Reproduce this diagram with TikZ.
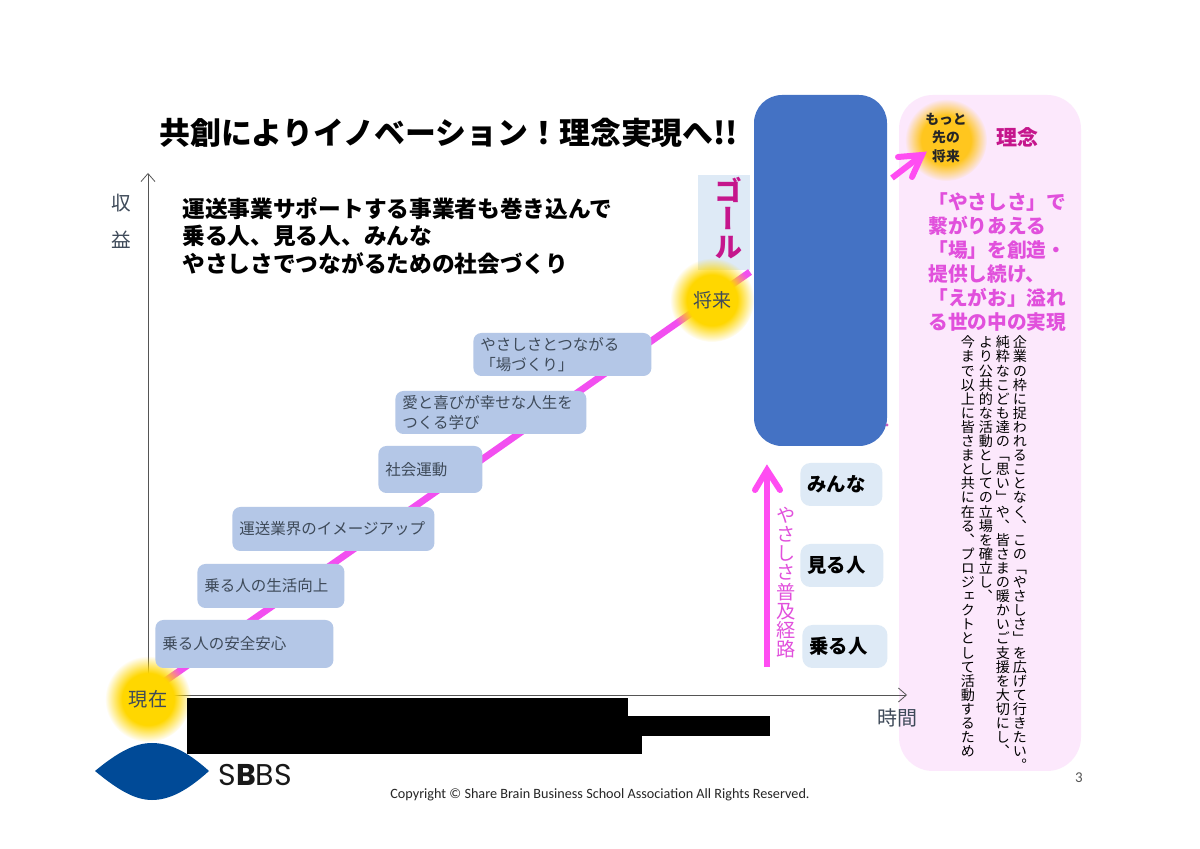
\documentclass[tikz,border=0pt]{standalone}
\usepackage{fontspec}
\usetikzlibrary{arrows.meta,fadings}
\setmainfont{Noto Sans CJK JP}
\newfontfamily\vjp[RawFeature={+vert}]{Noto Sans CJK JP}
\newfontfamily\latn{Carlito}
\newfontfamily\logo{Poppins}
\newcommand{\px}[1]{\fontsize{#1}{#1}\selectfont}
\makeatletter
\newcommand{\vstack}[1]{\vbox{\offinterlineskip\@tfor\vch:=#1\do{\hbox to 1em{\vrule width 0pt height .88em depth .12em\hss\vch\hss}}}}
\makeatother
\definecolor{stepblue}{HTML}{B4C7E7}
\definecolor{paleblue}{HTML}{DEEAF6}
\definecolor{goalblue}{HTML}{4472C4}
\definecolor{panelpink}{HTML}{FCE8FC}
\definecolor{linepink}{HTML}{F24FF0}
\definecolor{arrowpink}{HTML}{FF4DF2}
\definecolor{textpink}{HTML}{E150DC}
\definecolor{magentadeep}{HTML}{C5168C}
\definecolor{inkgray}{HTML}{3E4A59}
\definecolor{axisgray}{HTML}{555555}
\definecolor{sunyellow}{HTML}{FFD700}
\definecolor{sunorange}{HTML}{FFC61E}
\definecolor{logoblue}{HTML}{004A97}
\pgfdeclareradialshading{glowshade}{\pgfpointorigin}{%
  color(0bp)=(pgftransparent!0);
  color(15bp)=(pgftransparent!0);
  color(25bp)=(pgftransparent!100);
  color(50bp)=(pgftransparent!100)}
\pgfdeclarefading{glowfade}{\pgfuseshading{glowshade}}
\tikzset{
  stepbox/.style={fill=stepblue,rounded corners=4pt,align=left,inner xsep=3.5pt,inner ysep=0pt,
    text=inkgray,font=\px{7.75},anchor=west},
  whobox/.style={fill=paleblue,rounded corners=5pt,align=left,inner xsep=3.5pt,inner ysep=0pt,
    text=black,font=\bfseries\px{9.7},anchor=west},
  vert/.style={anchor=north,inner sep=0pt},
  axisline/.style={draw=axisgray,line width=.4pt,-{Straight Barb[length=4pt,width=7pt]}},
  pinkarrow/.style={draw=arrowpink,line width=3pt},
  pinkbarb/.style={draw=arrowpink,line width=3pt,line cap=round,line join=miter},
  plain/.style={inner sep=0pt},
}
\begin{document}
\begin{tikzpicture}[x=.5pt,y=-.5pt]
\useasboundingbox (0,0) rectangle (1200,849);
\fill[white] (0,0) rectangle (1200,849);
% panels
\fill[panelpink,rounded corners=17pt] (899,95) rectangle (1081,771);
% axes
\coordinate (origin) at (148,695);
\coordinate (ytop) at (148,173);
\coordinate (xend) at (907,695);
\draw[axisline] (origin) -- (ytop);
\draw[axisline] (origin) -- (xend);
\node[plain,text=inkgray,font=\px{9.8}] (ylab1) at (121,203) {収};
\node[plain,text=inkgray,font=\px{9.8}] (ylab2) at (121,240) {益};
\node[plain,text=inkgray,font=\px{10}] (xlab) at (897,718) {時間};
% goal
\fill[paleblue] (698,175) rectangle (750,270);
\node[vert,text=magentadeep,font=\vjp\bfseries\px{14}] (goal) at (728,176) {\vstack{ゴール}};
% stair line
\coordinate (lineend) at (750,272);
\coordinate (linestart) at (148,693);
\draw[draw=linepink,line width=3.4pt] (linestart) -- (lineend);
% glows
\fill[sunyellow,path fading=glowfade,fit fading=true] (148,699) circle (43);
\fill[sunyellow,path fading=glowfade,fit fading=true] (712,300) circle (42);
\fill[sunorange,path fading=glowfade,fit fading=true] (946,140) circle (41);
\node[plain,text=inkgray,font=\px{9.6}] (now) at (148,699) {現在};
\node[plain,text=inkgray,font=\px{9.5}] (future) at (712,300) {将来};
\node[plain,text=black!85,font=\bfseries\px{6.9},align=center] (farfuture) at (946,138) {もっと\\[2.2pt]先の\\[2.2pt]将来};
% main blue
\fill[goalblue,rounded corners=14pt] (754,95) rectangle (887,446);
\fill[textpink!70!gray] (887,425) circle (1.6);
% title
\node[plain,anchor=west,font=\bfseries\px{15.43}] (title) at (159,133) {共創によりイノベーション！理念実現へ!!};
\node[plain,anchor=north west,align=left,font=\bfseries\px{11.35},text=black] (lead) at (182,197)
  {運送事業サポートする事業者も巻き込んで\\[2.5pt]乗る人、見る人、みんな\\[2.5pt]やさしさでつながるための社会づくり};
% step boxes
\node[stepbox,minimum height=24pt,text width=82pt] (s1) at (155,644) {乗る人の安全安心};
\node[stepbox,minimum height=22pt,text width=66.5pt] (s2) at (197,586) {乗る人の生活向上};
\node[stepbox,minimum height=22pt,text width=94pt] (s3) at (232,529) {運送業界のイメージアップ};
\node[stepbox,minimum height=23.5pt,text width=45pt] (s4) at (378,469.5) {社会運動};
\node[stepbox,minimum height=21.5pt,text width=88.5pt] (s5) at (395,412.5) {愛と喜びが幸せな人生を\\[2pt]つくる学び};
\node[stepbox,minimum height=21.5pt,text width=82pt] (s6) at (473,354.5) {やさしさとつながる\\[2pt]「場づくり」};
% who boxes
\node[whobox,minimum height=21.5pt,text width=34pt] (w1) at (800,484.5) {みんな};
\node[whobox,minimum height=21.5pt,text width=34.5pt] (w2) at (800,565.5) {見る人};
\node[whobox,minimum height=21.5pt,text width=35.5pt] (w3) at (802,646.5) {乗る人};
% spreading arrow
\coordinate (uptail) at (767,667);
\coordinate (uptip) at (767,470);
\coordinate (upl) at (755,490);
\coordinate (upr) at (780,490);
\draw[pinkarrow] (uptail) -- (uptip);
\draw[pinkbarb] (upl) -- (uptip) -- (upr);
\node[vert,text=textpink,font=\vjp\px{9.6}] (route) at (786,505) {\vstack{やさしさ普及経路}};
% far arrow
\coordinate (fartail) at (892,178);
\coordinate (fartip) at (922,155);
\coordinate (farl) at (898,157);
\coordinate (farr) at (912,177);
\draw[pinkarrow] (fartail) -- (fartip);
\draw[pinkbarb] (farl) -- (fartip) -- (farr);
% philosophy
\node[plain,text=magentadeep,font=\bfseries\px{10.5}] (rinen) at (1017,137) {理念};
\node[plain,anchor=north west,align=left,text=textpink,font=\bfseries\px{9.85}] (phil) at (928,192)
  {「やさしさ」で\\[2.2pt]繋がりあえる\\[2.2pt]「場」を創造・\\[2.2pt]提供し続け、\\[2.2pt]「えがお」溢れ\\[2.2pt]る世の中の実現};
\node[vert,font=\vjp\px{7.05}] (c1) at (1020,335) {\vstack{企業の枠に捉われることなく、この「やさしさ」を広げて行きたい。}};
\node[vert,font=\vjp\px{7.05}] (c2) at (1003,335) {\vstack{純粋なこども達の「思い」や、皆さまの暖かいご支援を大切にし、}};
\node[vert,font=\vjp\px{7.05}] (c3) at (986,335) {\vstack{より公共的な活動としての立場を確立し、}};
\node[vert,font=\vjp\px{7.05}] (c4) at (968,335) {\vstack{今まで以上に皆さまと共に在る、プロジェクトとして活動するため}};
% redaction
\fill[black] (187,698) rectangle (628,716);
\fill[black] (187,716) rectangle (770,736);
\fill[black] (187,736) rectangle (642,754);
% logo
\coordinate (eyeL) at (95,771);
\coordinate (eyeR) at (209,771);
\fill[logoblue] (eyeL) .. controls (118,752) and (135,743) .. (152,743) .. controls (170,743) and (188,752) .. (eyeR)
  .. controls (188,790) and (170,800) .. (152,800) .. controls (135,800) and (118,790) .. (eyeL) -- cycle;
\node[plain,anchor=west,font=\logo\px{15},text=black!90] (sbbs) at (218,775) {S{\bfseries B}BS};
\node[plain,font=\latn\px{7.1},text=black!85] (copy) at (600,794.5) {Copyright © Share Brain Business School Association All Rights Reserved.};
\node[plain,font=\latn\px{7.5},text=axisgray] (page) at (1079,778) {3};
\end{tikzpicture}
\end{document}
